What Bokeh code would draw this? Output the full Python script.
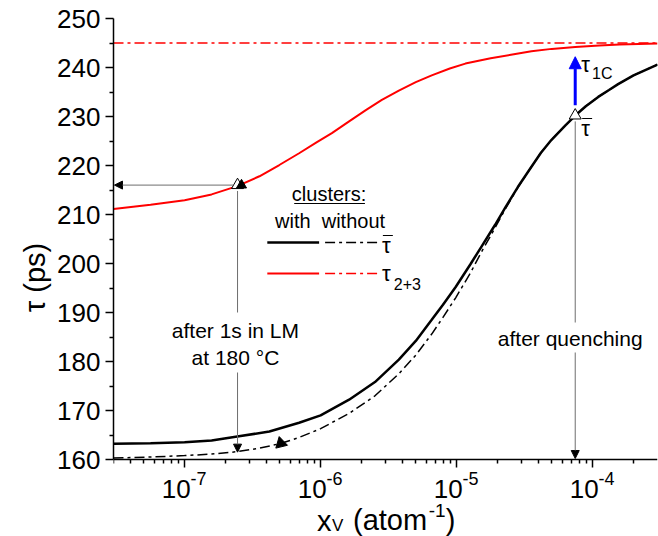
from bokeh.plotting import figure
from bokeh.models import FixedTicker, Arrow, NormalHead, Label, Range1d, CustomJSTickFormatter
from bokeh.embed import file_html
from bokeh.resources import INLINE

FONT = "Liberation Sans"

# ---- data ----
x_with = [3.0e-8, 5.62e-8, 1.0e-7, 1.58e-7, 2.44e-7, 4.2e-7, 6.95e-7, 1.0e-6, 1.62e-6,
          2.51e-6, 3.76e-6, 5.01e-6, 6.56e-6, 7.94e-6, 9.84e-6, 1.26e-5, 1.52e-5,
          1.91e-5, 2.29e-5, 2.82e-5, 3.54e-5, 4.17e-5, 4.97e-5, 6.31e-5, 7.45e-5,
          8.91e-5, 1.10e-4, 1.32e-4, 1.54e-4, 2.0e-4, 3.0e-4]
tau_bar_with = [163.2, 163.3, 163.5, 163.9, 164.7, 165.7, 167.5, 169.0, 172.2,
                175.8, 180.4, 184.2, 188.5, 191.6, 195.2, 199.8, 203.4,
                207.8, 211.5, 215.6, 219.7, 222.6, 225.2, 228.2, 230.2,
                232.1, 234.0, 235.4, 236.6, 238.4, 240.6]

x_without = [3.0e-8, 5.62e-8, 1.0e-7, 1.58e-7, 2.44e-7, 3.55e-7, 5.13e-7, 6.95e-7, 1.0e-6,
             1.62e-6, 2.51e-6, 3.76e-6, 5.01e-6, 6.56e-6, 7.94e-6, 9.84e-6, 1.26e-5,
             1.52e-5, 1.91e-5, 2.29e-5, 2.82e-5, 3.54e-5, 4.17e-5, 4.97e-5, 6.31e-5,
             7.45e-5, 8.91e-5, 1.10e-4, 1.32e-4, 1.54e-4, 2.0e-4, 3.0e-4]
tau_bar_without = [160.3, 160.5, 160.8, 161.1, 161.6, 162.3, 163.3, 164.5, 166.3,
                   169.4, 173.0, 177.5, 181.3, 185.6, 189.0, 193.0, 198.0,
                   202.3, 207.2, 211.2, 215.5, 219.7, 222.6, 225.2, 228.2,
                   230.2, 232.1, 234.0, 235.4, 236.6, 238.4, 240.6]

x_red = [3.0e-8, 5.62e-8, 1.0e-7, 1.58e-7, 2.44e-7, 3.55e-7, 4.97e-7, 6.95e-7, 9.33e-7,
         1.21e-6, 1.62e-6, 2.15e-6, 2.82e-6, 3.76e-6, 5.01e-6, 6.56e-6, 8.91e-6,
         1.16e-5, 1.78e-5, 2.51e-5, 3.55e-5, 5.01e-5, 7.45e-5, 1.12e-4, 1.58e-4, 3.0e-4]
tau23_with = [211.1, 212.0, 212.9, 214.1, 215.8, 217.8, 220.1, 222.5, 224.7,
              226.6, 229.0, 231.3, 233.4, 235.3, 237.0, 238.4, 239.8,
              240.8, 241.9, 242.6, 243.3, 243.8, 244.2, 244.5, 244.7, 244.9]

x_red_without = [3e-8, 3e-4]
tau23_without = [245.0, 245.0]

# key points
x_lm, tau_lm = 2.45e-7, 216.0          # after 1s in LM at 180 C
tau_lm_low = 161.5
x_arrow_pt, tau_arrow_pt = 5.1e-7, 163.3
x_q, tau_q = 7.45e-5, 230.2            # after quenching
tau_1c = 243.5

x_major = [1e-7, 1e-6, 1e-5, 1e-4]
x_major_exp = ["-7", "-6", "-5", "-4"]
x_minor = [m * 10.0 ** e for e in range(-8, -3) for m in range(2, 10)
           if 3e-8 <= m * 10.0 ** e <= 3e-4]
y_major = list(range(160, 251, 10))
y_minor = list(range(165, 250, 10))
y_min, y_max = 160, 250

# pixel helpers for annotation placement only (250 -> 18 px, 160 -> 459 px)
PX_PER_UNIT = (459 - 18) / (y_max - y_min)

def px2x(px):
    return 10 ** (-7 + (px - 185) / 136.5)

def px2y(py):
    return y_max - (py - 18) / PX_PER_UNIT

# the frame reaches the bottom of the canvas so that the x tick labels and title
# (drawn as labels) are not clipped; the x axis sits at tau = 160
p = figure(width=658, height=536, x_axis_type="log", x_axis_location="above",
           x_range=Range1d(3e-8, 3e-4), y_range=Range1d(px2y(536), y_max),
           output_backend="svg", toolbar_location=None,
           min_border_left=113, min_border_right=1, min_border_top=18, min_border_bottom=0)
p.outline_line_color = None
p.grid.visible = False

for ax in (p.xaxis[0], p.yaxis[0]):
    ax.axis_line_width = 1.5
    ax.major_tick_line_width = 1.5
    ax.minor_tick_line_width = 1.5
    ax.major_label_text_font = FONT
    ax.major_label_text_font_size = "26px"
    ax.major_label_text_color = "black"
    ax.axis_label_text_font = FONT
    ax.axis_label_text_font_size = "29px"
    ax.axis_label_text_font_style = "normal"
    ax.axis_label_text_color = "black"

xa, ya = p.xaxis[0], p.yaxis[0]
xa.fixed_location = y_min
xa.major_tick_out = 0
xa.major_tick_in = 8
xa.minor_tick_out = 0
xa.minor_tick_in = 4
xa.ticker = FixedTicker(ticks=x_major, minor_ticks=x_minor)
xa.formatter = CustomJSTickFormatter(code="return '';")
xa.major_label_text_font_size = "0px"
xa.major_label_standoff = 0

ya.bounds = (y_min, y_max)
ya.major_tick_in = 0
ya.major_tick_out = 8
ya.minor_tick_in = 0
ya.minor_tick_out = 4
ya.ticker = FixedTicker(ticks=y_major, minor_ticks=y_minor)
ya.axis_label = "\u03c4 (ps)"
ya.major_label_standoff = 5
ya.axis_label_standoff = 3

# curves
p.line(x_red_without, tau23_without, line_color="red", line_width=1.5, line_dash="10 4 3 4")
p.line(x_red, tau23_with, line_color="red", line_width=2)
p.line(x_without, tau_bar_without, line_color="black", line_width=1.5, line_dash="10 4 3 4")
p.line(x_with, tau_bar_with, line_color="black", line_width=2.5)

GREY = "#6e6e6e"
def head(sz=8, c="black"):
    return NormalHead(size=sz, fill_color=c, line_color=c)

# LM annotations
p.add_layout(Arrow(end=head(), x_start=x_lm * 0.93, y_start=tau_lm, x_end=3.05e-8, y_end=tau_lm,
                   line_color=GREY, line_width=1))
p.segment(x0=[x_lm], y0=[tau_lm - 1.2], x1=[x_lm], y1=[px2y(312)], line_color=GREY, line_width=1)
p.add_layout(Arrow(end=head(), x_start=x_lm, y_start=px2y(372), x_end=x_lm, y_end=tau_lm_low,
                   line_color=GREY, line_width=1))

# quench annotations
p.segment(x0=[x_q], y0=[tau_q - 1.2], x1=[x_q], y1=[px2y(322)], line_color=GREY, line_width=1)
p.add_layout(Arrow(end=head(), x_start=x_q, y_start=px2y(352), x_end=x_q, y_end=160.2,
                   line_color=GREY, line_width=1))
p.add_layout(Arrow(end=head(12, "blue"), x_start=x_q, y_start=232.3, x_end=x_q, y_end=242.2,
                   line_color="blue", line_width=3))

# markers
p.scatter([x_lm], [tau_lm], marker="triangle", size=12, fill_color="white", line_color="black", line_width=1)
p.scatter([x_lm * 10 ** (4 / 136.5)], [tau_lm], marker="triangle", size=10,
          fill_color="black", line_color="black")
p.scatter([x_arrow_pt], [tau_arrow_pt], marker="triangle", size=12, angle=0.24,
          fill_color="black", line_color="black")
p.scatter([x_q], [tau_q], marker="triangle", size=12, fill_color="white", line_color="black", line_width=1)
p.scatter([x_q], [tau_1c], marker="triangle_x", size=12, fill_color="white", fill_alpha=0.0,
          line_color="#444444", line_width=1)

def lab(x, y, text, size="21px", align="center", x_offset=0):
    p.add_layout(Label(x=x, y=y, x_offset=x_offset, text=text, text_font=FONT,
                       text_font_size=size, text_align=align, text_baseline="middle",
                       text_color="black"))

lab(px2x(236), px2y(330), "after 1s in LM")
lab(px2x(236), px2y(357), "at 180 \u00b0C")
lab(px2x(572), px2y(338), "after quenching")

# legend
lab(px2x(330), px2y(193), "clusters:", "20px")
p.line([px2x(295), px2x(366)], [px2y(203), px2y(203)], line_color="black", line_width=1)
lab(px2x(331), px2y(220), "with\u00a0\u00a0without", "20px")
p.line([px2x(268), px2x(320)], [px2y(242), px2y(242)], line_color="black", line_width=2.5)
p.line([px2x(326), px2x(379)], [px2y(242), px2y(242)], line_color="black", line_width=1.5, line_dash="10 4 3 4")
p.line([px2x(268), px2x(320)], [px2y(273), px2y(273)], line_color="red", line_width=2)
p.line([px2x(326), px2x(379)], [px2y(273), px2y(273)], line_color="red", line_width=1.5, line_dash="10 4 3 4")
lab(px2x(383), px2y(245), "\u03c4", "22px", "left")
p.line([px2x(384), px2x(394)], [px2y(235), px2y(235)], line_color="black", line_width=1.2)
lab(px2x(383), px2y(273), "\u03c4", "22px", "left")
lab(px2x(395), px2y(283), "2+3", "16px", "left")

# tau labels at right
lab(px2x(583), px2y(64), "\u03c4", "22px", "left")
lab(px2x(594), px2y(73), "1C", "16px", "left")
lab(px2x(583), px2y(128), "\u03c4", "22px", "left")
p.line([px2x(584), px2x(594)], [px2y(118), px2y(118)], line_color="black", line_width=1.2)

# x tick labels: 10 with raised exponent
for xv, ex in zip(x_major, x_major_exp):
    lab(xv, px2y(488), "10", "26px", "right", x_offset=6)
    lab(xv, px2y(478), ex, "18px", "left", x_offset=6)

# x axis title: x_V (atom^-1)
lab(px2x(318), px2y(520), "x", "29px", "left")
lab(px2x(333), px2y(525), "V", "17px", "left")
lab(px2x(354), px2y(519), "(atom", "29px", "left")
lab(px2x(430), px2y(510), "-1", "19px", "left")
lab(px2x(447), px2y(519), ")", "29px", "left")

open("out.html", "w").write(file_html(p, INLINE))
